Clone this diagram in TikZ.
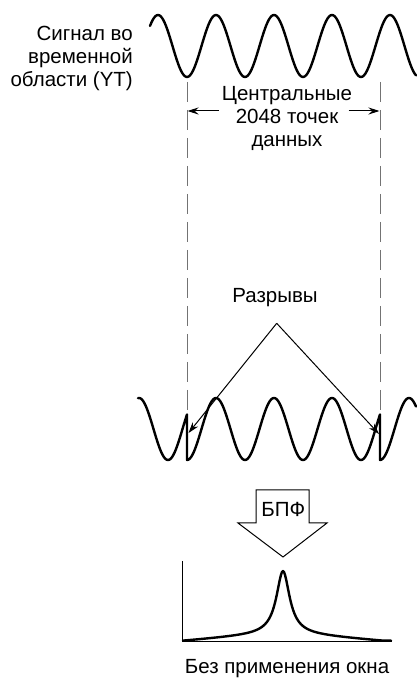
\documentclass[tikz,border=0pt]{standalone}
\usepackage{fontspec}
\setmainfont{Liberation Sans}
\usetikzlibrary{arrows.meta, positioning, calc}

\begin{document}
\begin{tikzpicture}[
      x=1pt, y=1pt,
      lbl/.style={inner sep=0pt, font=\fontsize{20.5}{23}\selectfont, align=center},
      wave/.style={line width=2.4pt, line join=round, line cap=round},
      guide/.style={draw=black!55, line width=0.9pt, dash pattern=on 20pt off 8pt},
      arr/.style={-{Stealth[length=11pt, width=7pt]}, line width=1pt},
      axis/.style={line width=1pt}
    ]
    \useasboundingbox (0,0) rectangle (416,678);
    % time-domain signal
    \node[lbl, align=right, anchor=north east] (yt) at (133,652) {Сигнал во\\временной\\области (YT)};
    \draw[wave] plot[domain=150:416, samples=200] (\x, {632-31*cos(360/58*(\x-187))});
    % record window
    \draw[guide] (187,596) -- (187,266);
    \draw[guide] (380,596) -- (380,266);
    \node[lbl, anchor=north] (ctr) at (287,592) {Центральные\\2048 точек\\данных};
    \coordinate (dimL) at (187.5,567);
    \coordinate (dimR) at (379.5,567);
    \draw[arr] ($(dimL)+(31,0)$) -- (dimL);
    \draw[arr] ($(dimR)+(-31,0)$) -- (dimR);
    % repeated record with discontinuities
    \draw[wave] plot[domain=138:187, samples=60] (\x, {249-31*cos(360/58*(\x+6))})
             -- plot[domain=187:380, samples=200] (\x, {249-31*cos(360/58*(\x-187))})
             -- plot[domain=380:416, samples=40] (\x, {249-31*cos(360/58*(\x-380))});
    \node[lbl, anchor=base] (brk) at (275,375) {Разрывы};
    \coordinate (apex) at (276.7,354.7);
    \coordinate (gapL) at (188.5,245);
    \coordinate (gapR) at (379,244);
    \draw[arr] (apex) -- (gapL);
    \draw[arr] (apex) -- (gapR);
    % FFT block arrow
    \draw[line width=1pt, line join=miter] (256,188) -- (309,188) -- (309,155) -- (327,155)
          -- (283,121) -- (238,155) -- (256,155) -- cycle;
    \node[lbl, anchor=base] (fft) at (283.3,161) {БПФ};
    % spectrum
    \draw[axis] (182,117) -- (182,36) -- (392,36);
    \draw[wave] plot[domain=-100:108, samples=209]
          (\x+283, {37+62/(1+(\x/8)*(\x/8))+8*max(0,1-abs(\x)/100)});
    \node[lbl, anchor=base] (nowin) at (287,5) {Без применения окна};
  \end{tikzpicture}
\end{document}
